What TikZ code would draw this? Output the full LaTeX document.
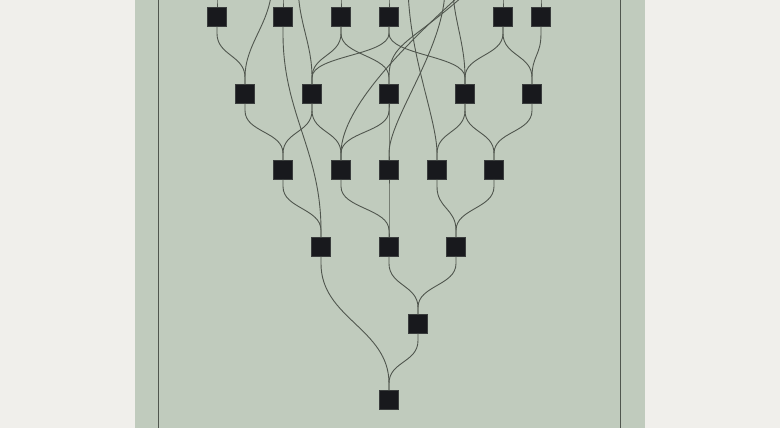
\documentclass[tikz,border=0pt]{standalone}
\usetikzlibrary{calc}
\definecolor{paper}{RGB}{240,239,235}
\definecolor{sage}{RGB}{192,203,189}
\definecolor{wire}{RGB}{80,86,78}
\definecolor{ink}{RGB}{24,25,29}
\begin{document}
\begin{tikzpicture}[x=1pt,y=1pt,
  box/.style={rectangle,fill=ink,draw=ink!80!sage,line width=0.6pt,minimum size=18.5pt,inner sep=0pt},
  link/.style={draw=wire,line width=0.9pt,to path={(\tikztostart.south) -- ++(0,-7) .. controls +(0,-#1) and +(0,#1) .. ($(\tikztotarget.north)+(0,7)$) -- (\tikztotarget.north)}},
  link/.default=22,
  drop/.style={draw=wire,line width=0.9pt,to path={(\tikztostart) .. controls +(#1) and +(0,35) .. ($(\tikztotarget.north)+(0,7)$) -- (\tikztotarget.north)}}]
  \useasboundingbox (0,0) rectangle (780,428);
  \clip (0,0) rectangle (780,428);
  \fill[paper] (0,0) rectangle (780,428);
  \fill[sage] (135,-10) rectangle (645,440);
  \draw[wire,line width=0.9pt] (158,-20) rectangle (620,450);

  \node[box] (1) at (217,411) {};
  \node[box] (2) at (283,411) {};
  \node[box] (3) at (341,411) {};
  \node[box] (4) at (389,411) {};
  \node[box] (5) at (503,411) {};
  \node[box] (6) at (541,411) {};
  \node[box] (7) at (245,334) {};
  \node[box] (8) at (312,334) {};
  \node[box] (9) at (389,334) {};
  \node[box] (10) at (465,334) {};
  \node[box] (11) at (532,334) {};
  \node[box] (12) at (283,258) {};
  \node[box] (13) at (341,258) {};
  \node[box] (14) at (389,258) {};
  \node[box] (15) at (437,258) {};
  \node[box] (16) at (494,258) {};
  \node[box] (17) at (321,181) {};
  \node[box] (18) at (389,181) {};
  \node[box] (19) at (456,181) {};
  \node[box] (20) at (418,104) {};
  \node[box] (21) at (389,28) {};

  \coordinate (h1) at (217,445);
  \coordinate (h2) at (283,445);
  \coordinate (h3) at (341,445);
  \coordinate (h4) at (389,445);
  \coordinate (h5) at (503,445);
  \coordinate (h6) at (541,445);
  \coordinate (u1) at (272,445);
  \coordinate (u2) at (298,445);
  \coordinate (u3) at (408,445);
  \coordinate (u4) at (445,440);
  \coordinate (u5) at (468,440);
  \coordinate (u6) at (472,440);
  \coordinate (u7) at (453,440);

  \path (h1) edge[drop={0,-10}] (1);
  \path (h2) edge[drop={0,-10}] (2);
  \path (h3) edge[drop={0,-10}] (3);
  \path (h4) edge[drop={0,-10}] (4);
  \path (h5) edge[drop={0,-10}] (5);
  \path (h6) edge[drop={0,-10}] (6);
  \path (u1) edge[drop={0,-40}] (7);
  \path (u2) edge[drop={0,-40}] (8);
  \path (u3) edge[drop={0,-70}] (15);
  \path (u4) edge[drop={0,-60}] (14);
  \path (u5) edge[drop={-90,-80}] (13);
  \path (u6) edge[drop={-60,-55}] (9);
  \path (u7) edge[drop={0,-30}] (10);

  \path (1) edge[link] (7);
  \path (2) edge[link=80] (17);
  \path (3) edge[link] (8);
  \path (3) edge[link] (9);
  \path (4) edge[link] (8);
  \path (4) edge[link] (10);
  \path (5) edge[link] (10);
  \path (5) edge[link] (11);
  \path (6) edge[link] (11);
  \path (7) edge[link] (12);
  \path (8) edge[link] (12);
  \path (8) edge[link] (13);
  \path (9) edge[link] (13);
  \path (9) edge[link] (14);
  \path (10) edge[link] (15);
  \path (10) edge[link] (16);
  \path (11) edge[link] (16);
  \path (12) edge[link] (17);
  \path (13) edge[link] (18);
  \path (14) edge[link] (18);
  \path (15) edge[link] (19);
  \path (16) edge[link] (19);
  \path (18) edge[link] (20);
  \path (19) edge[link] (20);
  \path (17) edge[link=55] (21);
  \path (20) edge[link] (21);
\end{tikzpicture}
\end{document}
